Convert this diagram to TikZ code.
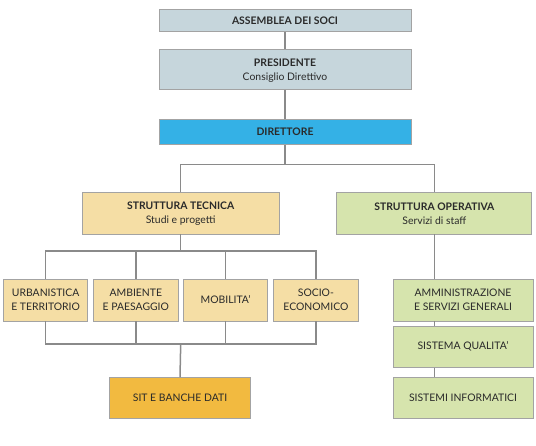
\documentclass[tikz,border=0pt]{standalone}
\usepackage{fontspec}
\setmainfont{Lato}
\definecolor{boxline}{HTML}{A3A3A3}
\definecolor{wire}{HTML}{8A8A8A}
\definecolor{palegrey}{HTML}{C6D6DC}
\definecolor{dirblue}{HTML}{34B1E6}
\definecolor{tecsand}{HTML}{F5DEA5}
\definecolor{opegreen}{HTML}{D6E4AD}
\definecolor{sitgold}{HTML}{F2BA40}
\definecolor{ink}{HTML}{2A2A2A}
\tikzset{
  box/.style={draw=boxline, line width=0.9pt, inner sep=0pt, align=center,
    text=ink, font=\fontsize{10.4}{14}\selectfont},
  topbox/.style={box, fill=palegrey, minimum width=252, text depth=0pt},
  tecbox/.style={box, fill=tecsand},
  opebox/.style={box, fill=opegreen},
  subbox/.style={tecbox, minimum width=84.5, minimum height=42},
  staffbox/.style={opebox, minimum width=140},
  wireline/.style={draw=wire, line width=1.5pt}
}
\begin{document}
\begin{tikzpicture}[x=1pt, y=-1pt]
  \useasboundingbox (0,0) rectangle (536,445);
  % governance
  \node[topbox, minimum height=22.7] (ass) at (285,20.3) {\textbf{ASSEMBLEA DEI SOCI}};
  \node[topbox, minimum height=39.7] (pres) at (285,69.2) {\textbf{PRESIDENTE}\\Consiglio Direttivo};
  \node[topbox, fill=dirblue, minimum height=24.7] (dir) at (285,131.7) {\textbf{DIRETTORE}};
  % two structures
  \node[tecbox, minimum width=197, minimum height=41.4] (tec) at (180.7,213.3) {\textbf{STRUTTURA TECNICA}\\Studi e progetti};
  \node[opebox, minimum width=195, minimum height=41.4] (ope) at (434.4,213.3) {\textbf{STRUTTURA OPERATIVA}\\Servizi di staff};
  % sectors
  \node[subbox] (urb) at (45.6,300) {URBANISTICA\\E TERRITORIO};
  \node[subbox] (amb) at (135.8,300) {AMBIENTE\\E PAESAGGIO};
  \node[subbox] (mob) at (225.6,300) {MOBILITA'};
  \node[subbox] (soc) at (315.9,300) {SOCIO-\\ECONOMICO};
  \node[box, fill=sitgold, minimum width=141, minimum height=41] (sit) at (180,398.2) {SIT E BANCHE DATI};
  % staff
  \node[staffbox, minimum height=42] (adm) at (463,300) {AMMINISTRAZIONE\\E SERVIZI GENERALI};
  \node[staffbox, minimum height=40.7] (qual) at (463,346.7) {SISTEMA QUALITA'};
  \node[staffbox, minimum height=41] (inf) at (463,398.2) {SISTEMI INFORMATICI};

  \coordinate (split) at (285,164.5);
  \coordinate (upbus) at (180.7,251);
  \coordinate (lowbus) at (180.7,344);

  \path[wireline] (ass) -- (pres);
  \path[wireline] (pres) -- (dir);
  \path[wireline] (dir) -- (split);
  \path[wireline] (tec.north) |- (split) -| (ope.north);
  \path[wireline] (tec) -- (upbus);
  \path[wireline] (urb.north) |- (upbus) -| (soc.north);
  \path[wireline] (amb.north) -- (amb.north |- upbus);
  \path[wireline] (mob.north) -- (mob.north |- upbus);
  \path[wireline] (urb.south) |- (lowbus) -| (soc.south);
  \path[wireline] (amb.south) -- (amb.south |- lowbus);
  \path[wireline] (mob.south) -- (mob.south |- lowbus);
  \path[wireline] (lowbus) -- (sit.north);
  \path[wireline] (ope.south) -- (ope.south |- adm.north);
  \path[wireline] (ope.south |- adm.south) -- (ope.south |- qual.north);
  \path[wireline] (ope.south |- qual.south) -- (ope.south |- inf.north);
\end{tikzpicture}
\end{document}
